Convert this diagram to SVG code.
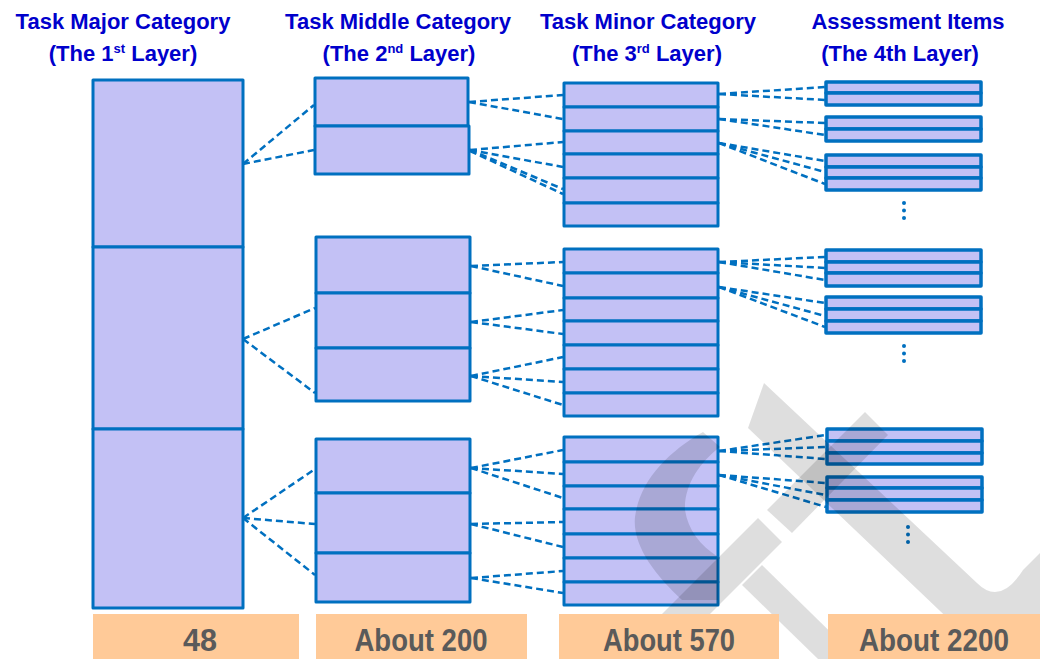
<svg xmlns="http://www.w3.org/2000/svg" width="1040" height="659" viewBox="0 0 1040 659">
  <style>
    .cell { fill: #C3C1F5; stroke: #0070C0; stroke-width: 3; stroke-linejoin: round; }
    .thin { stroke-width: 3.5; }
    .link { stroke: #0070C0; stroke-width: 2.5; stroke-dasharray: 7 4; fill: none; }
    .head { font-family: "Liberation Sans", Arial, sans-serif; font-weight: bold; font-size: 22px; fill: #0000CC; text-anchor: middle; }
    .sup { font-size: 13px; }
    .count-bg { fill: #FFCA98; }
    .count { font-family: "Liberation Sans", Arial, sans-serif; font-weight: bold; font-size: 32px; fill: #5A5A5A; text-anchor: middle; }
    .dot { fill: #0070C0; }
    .mark { fill: #000000; fill-opacity: 0.13; }
  </style>

  <rect width="1040" height="659" fill="#FFFFFF"/>

  <!-- column headings -->
  <g id="headings">
    <text class="head" x="123" y="29">Task Major Category</text>
    <text class="head" x="123" y="61">(The 1<tspan class="sup" dy="-8">st</tspan><tspan dy="8"> Layer)</tspan></text>
    <text class="head" x="398" y="29">Task Middle Category</text>
    <text class="head" x="399" y="61">(The 2<tspan class="sup" dy="-8">nd</tspan><tspan dy="8"> Layer)</tspan></text>
    <text class="head" x="648" y="29">Task Minor Category</text>
    <text class="head" x="647" y="61">(The 3<tspan class="sup" dy="-8">rd</tspan><tspan dy="8"> Layer)</tspan></text>
    <text class="head" x="908" y="29">Assessment Items</text>
    <text class="head" x="900" y="61">(The 4th Layer)</text>
  </g>

  <!-- layer 1: major categories -->
  <g id="major">
    <rect class="cell" x="93" y="80" width="150" height="167"/>
    <rect class="cell" x="93" y="247" width="150" height="182"/>
    <rect class="cell" x="93" y="429" width="150" height="179"/>
  </g>

  <!-- layer 2: middle categories -->
  <g id="middle-1">
    <rect class="cell" x="315" y="78" width="153" height="48"/>
    <rect class="cell" x="315" y="126" width="154" height="48"/>
  </g>
  <g id="middle-2">
    <rect class="cell" x="316" y="237" width="154" height="56"/>
    <rect class="cell" x="316" y="293" width="154" height="55"/>
    <rect class="cell" x="316" y="348" width="154" height="53"/>
  </g>
  <g id="middle-3">
    <rect class="cell" x="316" y="439" width="154" height="54"/>
    <rect class="cell" x="316" y="493" width="154" height="60"/>
    <rect class="cell" x="316" y="553" width="154" height="49"/>
  </g>

  <!-- layer 3: minor categories -->
  <g id="minor-1">
    <rect class="cell" x="564" y="83" width="154" height="24"/>
    <rect class="cell" x="564" y="107" width="154" height="24"/>
    <rect class="cell" x="564" y="131" width="154" height="23"/>
    <rect class="cell" x="564" y="154" width="154" height="24"/>
    <rect class="cell" x="564" y="178" width="154" height="25"/>
    <rect class="cell" x="564" y="203" width="154" height="23"/>
  </g>
  <g id="minor-2">
    <rect class="cell" x="564" y="249" width="154" height="24"/>
    <rect class="cell" x="564" y="273" width="154" height="25"/>
    <rect class="cell" x="564" y="298" width="154" height="23"/>
    <rect class="cell" x="564" y="321" width="154" height="24"/>
    <rect class="cell" x="564" y="345" width="154" height="24"/>
    <rect class="cell" x="564" y="369" width="154" height="24"/>
    <rect class="cell" x="564" y="393" width="154" height="23"/>
  </g>
  <g id="minor-3">
    <rect class="cell" x="564" y="437" width="154" height="25"/>
    <rect class="cell" x="564" y="462" width="154" height="24"/>
    <rect class="cell" x="564" y="486" width="154" height="23"/>
    <rect class="cell" x="564" y="509" width="154" height="25"/>
    <rect class="cell" x="564" y="534" width="154" height="24"/>
    <rect class="cell" x="564" y="558" width="154" height="24"/>
    <rect class="cell" x="564" y="582" width="154" height="23"/>
  </g>

  <!-- layer 4: assessment items -->
  <g id="items-a">
    <rect class="cell thin" x="826" y="82" width="155" height="11"/>
    <rect class="cell thin" x="826" y="93" width="155" height="12"/>
  </g>
  <g id="items-b">
    <rect class="cell thin" x="826" y="117" width="155" height="12"/>
    <rect class="cell thin" x="826" y="129" width="155" height="12"/>
  </g>
  <g id="items-c">
    <rect class="cell thin" x="826" y="155" width="155" height="12"/>
    <rect class="cell thin" x="826" y="167" width="155" height="11"/>
    <rect class="cell thin" x="826" y="178" width="155" height="12"/>
  </g>
  <g id="items-d">
    <rect class="cell thin" x="826" y="250" width="155" height="12"/>
    <rect class="cell thin" x="826" y="262" width="155" height="11"/>
    <rect class="cell thin" x="826" y="273" width="155" height="13"/>
  </g>
  <g id="items-e">
    <rect class="cell thin" x="826" y="297" width="155" height="12"/>
    <rect class="cell thin" x="826" y="309" width="155" height="12"/>
    <rect class="cell thin" x="826" y="321" width="155" height="12"/>
  </g>
  <g id="items-f">
    <rect class="cell thin" x="827" y="429" width="155" height="12"/>
    <rect class="cell thin" x="827" y="441" width="155" height="12"/>
    <rect class="cell thin" x="827" y="453" width="155" height="11"/>
  </g>
  <g id="items-g">
    <rect class="cell thin" x="827" y="477" width="155" height="11"/>
    <rect class="cell thin" x="827" y="488" width="155" height="12"/>
    <rect class="cell thin" x="827" y="500" width="155" height="12"/>
  </g>

  <!-- continuation dots -->
  <g id="more">
    <circle class="dot" cx="904" cy="203" r="2"/>
    <circle class="dot" cx="904" cy="210.5" r="2"/>
    <circle class="dot" cx="904" cy="218" r="2"/>
    <circle class="dot" cx="904" cy="346" r="2"/>
    <circle class="dot" cx="904" cy="353.5" r="2"/>
    <circle class="dot" cx="904" cy="361" r="2"/>
    <circle class="dot" cx="908" cy="527" r="2"/>
    <circle class="dot" cx="908" cy="534.5" r="2"/>
    <circle class="dot" cx="908" cy="542" r="2"/>
  </g>

  <!-- dashed connectors -->
  <g id="connectors">
    <!-- layer 1 to layer 2 -->
    <line class="link" x1="243" y1="164" x2="314" y2="105"/>
    <line class="link" x1="243" y1="164" x2="314" y2="150"/>
    <line class="link" x1="243" y1="339" x2="315" y2="308"/>
    <line class="link" x1="243" y1="339" x2="315" y2="393"/>
    <line class="link" x1="243" y1="518" x2="315" y2="469"/>
    <line class="link" x1="243" y1="518" x2="315" y2="524"/>
    <line class="link" x1="243" y1="518" x2="315" y2="575"/>
    <!-- layer 2 to layer 3 -->
    <line class="link" x1="469" y1="102" x2="563" y2="95"/>
    <line class="link" x1="469" y1="102" x2="563" y2="119"/>
    <line class="link" x1="470" y1="150" x2="563" y2="142"/>
    <line class="link" x1="470" y1="150" x2="563" y2="167"/>
    <line class="link" x1="470" y1="150" x2="563" y2="189"/>
    <line class="link" x1="470" y1="151" x2="563" y2="194"/>
    <line class="link" x1="471" y1="266" x2="563" y2="262"/>
    <line class="link" x1="471" y1="266" x2="563" y2="286"/>
    <line class="link" x1="471" y1="322" x2="563" y2="310"/>
    <line class="link" x1="471" y1="322" x2="563" y2="334"/>
    <line class="link" x1="471" y1="376" x2="563" y2="357"/>
    <line class="link" x1="471" y1="376" x2="563" y2="382"/>
    <line class="link" x1="471" y1="376" x2="563" y2="405"/>
    <line class="link" x1="471" y1="468" x2="563" y2="450"/>
    <line class="link" x1="471" y1="468" x2="563" y2="474"/>
    <line class="link" x1="471" y1="468" x2="563" y2="498"/>
    <line class="link" x1="471" y1="524" x2="563" y2="522"/>
    <line class="link" x1="471" y1="524" x2="563" y2="547"/>
    <line class="link" x1="471" y1="578" x2="563" y2="571"/>
    <line class="link" x1="471" y1="578" x2="563" y2="593"/>
    <!-- layer 3 to layer 4 -->
    <line class="link" x1="719" y1="94" x2="825" y2="87"/>
    <line class="link" x1="719" y1="94" x2="825" y2="100"/>
    <line class="link" x1="719" y1="119" x2="825" y2="123"/>
    <line class="link" x1="719" y1="119" x2="825" y2="135"/>
    <line class="link" x1="719" y1="143" x2="825" y2="161"/>
    <line class="link" x1="719" y1="143" x2="825" y2="172"/>
    <line class="link" x1="719" y1="143" x2="825" y2="184"/>
    <line class="link" x1="719" y1="262" x2="825" y2="257"/>
    <line class="link" x1="719" y1="262" x2="825" y2="268"/>
    <line class="link" x1="719" y1="262" x2="825" y2="280"/>
    <line class="link" x1="719" y1="287" x2="825" y2="303"/>
    <line class="link" x1="719" y1="287" x2="825" y2="316"/>
    <line class="link" x1="719" y1="287" x2="825" y2="327"/>
    <line class="link" x1="719" y1="451" x2="826" y2="435"/>
    <line class="link" x1="719" y1="451" x2="826" y2="447"/>
    <line class="link" x1="719" y1="451" x2="826" y2="459"/>
    <line class="link" x1="719" y1="475" x2="826" y2="483"/>
    <line class="link" x1="719" y1="475" x2="826" y2="495"/>
    <line class="link" x1="719" y1="475" x2="826" y2="507"/>
  </g>

  <!-- faint logo shapes in the lower right -->
  <g id="logo">
    <path class="mark" d="M764,383 L977,583 Q1000,606 1023,570 L1040,553 L1040,620 Q1000,668 960,630 L748,428 Z"/>
    <path class="mark" d="M865,412 L888,435 L792,533 L767,510 Z"/>
    <path class="mark" d="M758,518 L782,542 L665,659 L617,659 Z"/>
    <path class="mark" d="M742,585 L762,565 L858,659 L818,659 Z"/>
    <path class="mark" d="M703,432 C668,452 640,480 635,517 C632,545 655,575 682,600 L718,600 L718,557 C700,545 688,530 685,510 C684,485 700,462 720,447 Z"/>
  </g>

  <!-- counts per layer -->
  <g id="counts">
    <rect class="count-bg" x="93" y="614" width="206" height="45"/>
    <rect class="count-bg" x="316" y="614" width="211" height="45"/>
    <rect class="count-bg" x="559" y="614" width="220" height="45"/>
    <rect class="count-bg" x="828" y="614" width="212" height="45"/>
    <text class="count" x="200" y="651" textLength="34" lengthAdjust="spacingAndGlyphs">48</text>
    <text class="count" x="421" y="651" textLength="133" lengthAdjust="spacingAndGlyphs">About 200</text>
    <text class="count" x="669" y="651" textLength="132" lengthAdjust="spacingAndGlyphs">About 570</text>
    <text class="count" x="934" y="651" textLength="150" lengthAdjust="spacingAndGlyphs">About 2200</text>
  </g>
</svg>
